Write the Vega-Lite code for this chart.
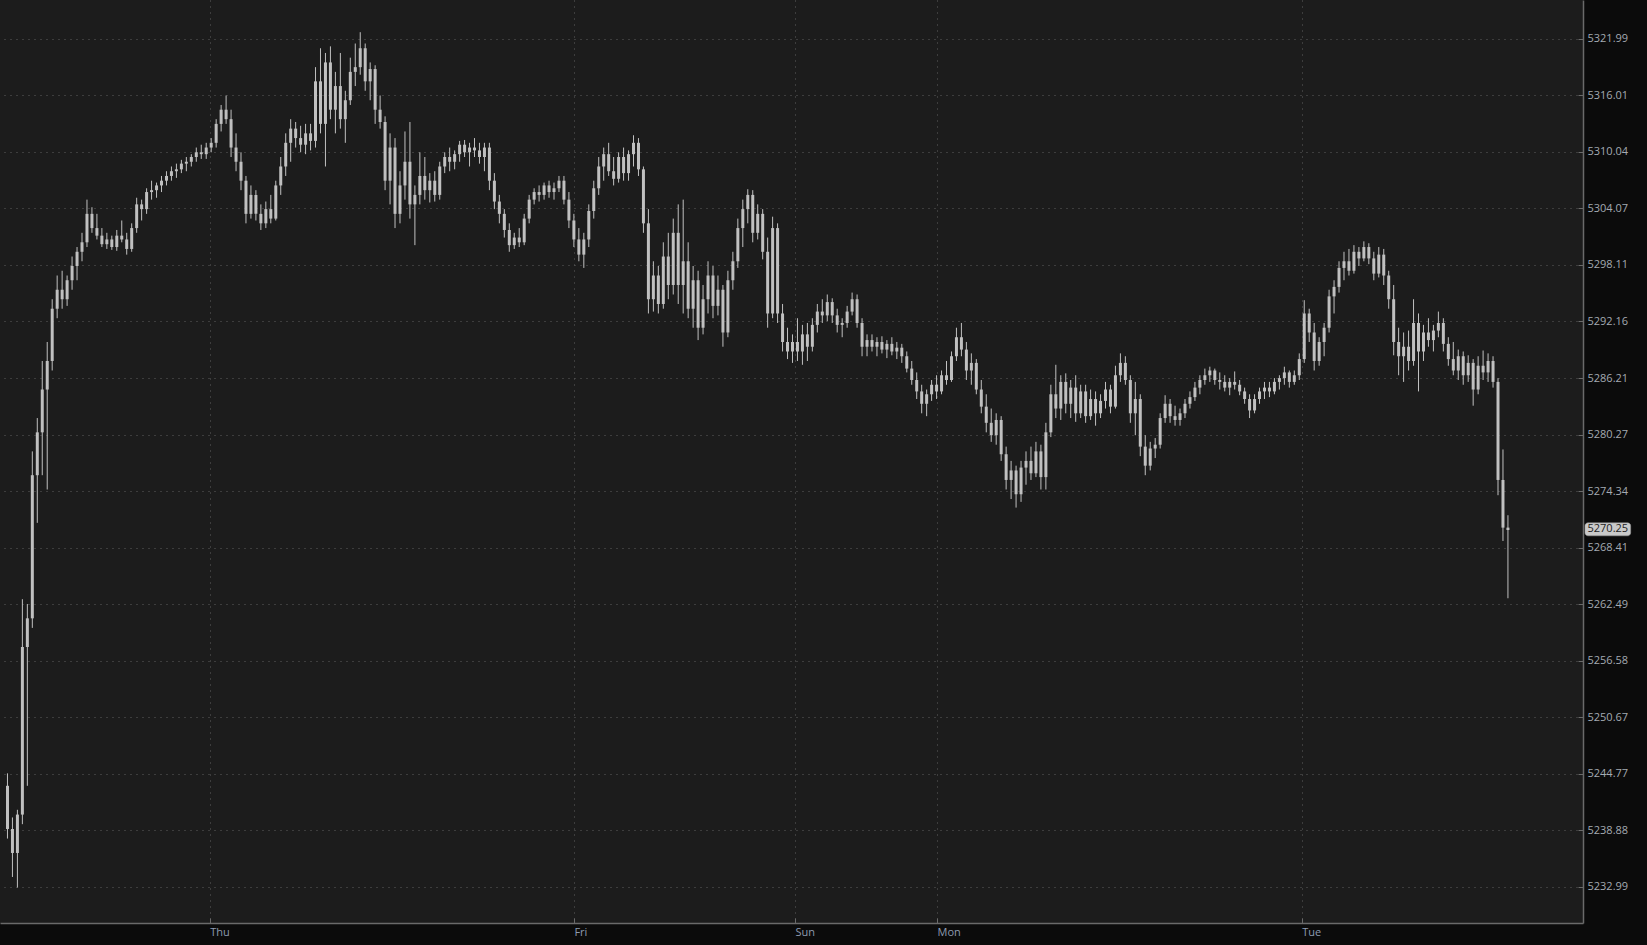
{
"$schema":"https://vega.github.io/schema/vega-lite/v6.json",
"width":1583,"height":923,
"autosize":{"type":"none"},
"padding":{"left":0,"top":0,"right":64,"bottom":22},
"background":"#0b0b0b",
"config":{"view":{"fill":"#1c1c1c","stroke":null},"font":"Open Sans","axis":{"labelFont":"Open Sans"}},
"datasets":{
"bars":[
{"i":0,"o":5243.5,"h":5244.8,"l":5238.0,"c":5239.0},
{"i":1,"o":5239.0,"h":5240.2,"l":5234.0,"c":5236.5},
{"i":2,"o":5236.5,"h":5241.0,"l":5232.9,"c":5240.5},
{"i":3,"o":5240.5,"h":5263.0,"l":5239.5,"c":5258.0},
{"i":4,"o":5258.0,"h":5262.5,"l":5243.5,"c":5261.0},
{"i":5,"o":5261.0,"h":5278.5,"l":5260.0,"c":5276.0},
{"i":6,"o":5276.0,"h":5282.0,"l":5271.0,"c":5280.5},
{"i":7,"o":5280.5,"h":5288.0,"l":5276.0,"c":5285.0},
{"i":8,"o":5285.0,"h":5290.0,"l":5274.5,"c":5288.0},
{"i":9,"o":5288.0,"h":5294.5,"l":5287.0,"c":5293.5},
{"i":10,"o":5293.5,"h":5297.0,"l":5292.5,"c":5295.5},
{"i":11,"o":5295.5,"h":5297.5,"l":5293.5,"c":5294.5},
{"i":12,"o":5294.5,"h":5297.0,"l":5293.8,"c":5296.5},
{"i":13,"o":5296.5,"h":5299.0,"l":5295.5,"c":5298.0},
{"i":14,"o":5298.0,"h":5300.0,"l":5296.5,"c":5299.5},
{"i":15,"o":5299.5,"h":5301.5,"l":5298.5,"c":5300.5},
{"i":16,"o":5300.5,"h":5305.0,"l":5300.0,"c":5303.5},
{"i":17,"o":5303.5,"h":5304.2,"l":5301.5,"c":5302.0},
{"i":18,"o":5302.0,"h":5303.5,"l":5300.8,"c":5301.2},
{"i":19,"o":5301.2,"h":5302.0,"l":5300.0,"c":5300.3},
{"i":20,"o":5300.3,"h":5301.5,"l":5299.8,"c":5300.8},
{"i":21,"o":5300.8,"h":5301.2,"l":5299.7,"c":5300.0},
{"i":22,"o":5300.0,"h":5301.8,"l":5299.6,"c":5301.2},
{"i":23,"o":5301.2,"h":5302.8,"l":5300.5,"c":5300.8},
{"i":24,"o":5300.8,"h":5301.5,"l":5299.2,"c":5299.8},
{"i":25,"o":5299.8,"h":5302.5,"l":5299.5,"c":5302.0},
{"i":26,"o":5302.0,"h":5305.2,"l":5301.5,"c":5304.5},
{"i":27,"o":5304.5,"h":5305.0,"l":5302.8,"c":5304.0},
{"i":28,"o":5304.0,"h":5306.2,"l":5303.5,"c":5305.8},
{"i":29,"o":5305.8,"h":5307.0,"l":5305.0,"c":5306.0},
{"i":30,"o":5306.0,"h":5306.8,"l":5305.2,"c":5306.5},
{"i":31,"o":5306.5,"h":5307.5,"l":5305.8,"c":5307.0},
{"i":32,"o":5307.0,"h":5308.0,"l":5306.5,"c":5307.5},
{"i":33,"o":5307.5,"h":5308.5,"l":5307.0,"c":5308.0},
{"i":34,"o":5308.0,"h":5308.8,"l":5307.3,"c":5308.2},
{"i":35,"o":5308.2,"h":5309.2,"l":5307.8,"c":5308.8},
{"i":36,"o":5308.8,"h":5309.5,"l":5308.0,"c":5309.0},
{"i":37,"o":5309.0,"h":5309.8,"l":5308.5,"c":5309.5},
{"i":38,"o":5309.5,"h":5310.5,"l":5309.0,"c":5310.0},
{"i":39,"o":5310.0,"h":5310.8,"l":5309.3,"c":5309.8},
{"i":40,"o":5309.8,"h":5311.0,"l":5309.3,"c":5310.5},
{"i":41,"o":5310.5,"h":5311.5,"l":5310.0,"c":5311.0},
{"i":42,"o":5311.0,"h":5313.5,"l":5310.5,"c":5313.0},
{"i":43,"o":5313.0,"h":5315.0,"l":5312.2,"c":5314.5},
{"i":44,"o":5314.5,"h":5316.0,"l":5313.0,"c":5313.5},
{"i":45,"o":5313.5,"h":5314.5,"l":5309.5,"c":5310.5},
{"i":46,"o":5310.5,"h":5312.0,"l":5308.0,"c":5309.0},
{"i":47,"o":5309.0,"h":5310.0,"l":5306.0,"c":5307.0},
{"i":48,"o":5307.0,"h":5307.5,"l":5302.5,"c":5303.5},
{"i":49,"o":5303.5,"h":5306.5,"l":5303.0,"c":5305.5},
{"i":50,"o":5305.5,"h":5306.0,"l":5302.8,"c":5303.5},
{"i":51,"o":5303.5,"h":5304.5,"l":5301.8,"c":5302.5},
{"i":52,"o":5302.5,"h":5304.8,"l":5302.0,"c":5304.0},
{"i":53,"o":5304.0,"h":5305.5,"l":5302.5,"c":5303.0},
{"i":54,"o":5303.0,"h":5307.0,"l":5302.8,"c":5306.5},
{"i":55,"o":5306.5,"h":5309.5,"l":5305.5,"c":5308.5},
{"i":56,"o":5308.5,"h":5312.0,"l":5307.5,"c":5311.0},
{"i":57,"o":5311.0,"h":5313.5,"l":5309.0,"c":5312.5},
{"i":58,"o":5312.5,"h":5313.2,"l":5310.5,"c":5311.5},
{"i":59,"o":5311.5,"h":5312.8,"l":5310.0,"c":5310.8},
{"i":60,"o":5310.8,"h":5313.0,"l":5309.8,"c":5312.0},
{"i":61,"o":5312.0,"h":5313.0,"l":5310.2,"c":5311.2},
{"i":62,"o":5311.2,"h":5319.0,"l":5310.5,"c":5317.5},
{"i":63,"o":5317.5,"h":5321.0,"l":5312.0,"c":5313.0},
{"i":64,"o":5313.0,"h":5320.5,"l":5308.5,"c":5319.5},
{"i":65,"o":5319.5,"h":5321.2,"l":5313.5,"c":5314.5},
{"i":66,"o":5314.5,"h":5318.5,"l":5312.0,"c":5317.0},
{"i":67,"o":5317.0,"h":5320.5,"l":5312.5,"c":5313.5},
{"i":68,"o":5313.5,"h":5316.5,"l":5311.0,"c":5315.5},
{"i":69,"o":5315.5,"h":5320.0,"l":5315.0,"c":5318.5},
{"i":70,"o":5318.5,"h":5321.5,"l":5317.0,"c":5319.0},
{"i":71,"o":5319.0,"h":5322.7,"l":5318.2,"c":5321.0},
{"i":72,"o":5321.0,"h":5321.5,"l":5316.5,"c":5317.5},
{"i":73,"o":5317.5,"h":5319.5,"l":5315.5,"c":5318.8},
{"i":74,"o":5318.8,"h":5319.2,"l":5313.0,"c":5314.5},
{"i":75,"o":5314.5,"h":5316.0,"l":5312.5,"c":5313.2},
{"i":76,"o":5313.2,"h":5313.8,"l":5306.0,"c":5307.0},
{"i":77,"o":5307.0,"h":5312.0,"l":5304.5,"c":5310.5},
{"i":78,"o":5310.5,"h":5311.5,"l":5302.0,"c":5303.5},
{"i":79,"o":5303.5,"h":5308.0,"l":5302.5,"c":5306.5},
{"i":80,"o":5306.5,"h":5312.2,"l":5305.0,"c":5309.0},
{"i":81,"o":5309.0,"h":5313.2,"l":5303.0,"c":5304.5},
{"i":82,"o":5304.5,"h":5306.5,"l":5300.2,"c":5305.5},
{"i":83,"o":5305.5,"h":5310.0,"l":5304.5,"c":5307.5},
{"i":84,"o":5307.5,"h":5309.5,"l":5305.0,"c":5306.0},
{"i":85,"o":5306.0,"h":5307.8,"l":5304.7,"c":5307.0},
{"i":86,"o":5307.0,"h":5308.0,"l":5304.8,"c":5305.5},
{"i":87,"o":5305.5,"h":5309.0,"l":5305.0,"c":5308.5},
{"i":88,"o":5308.5,"h":5310.0,"l":5307.8,"c":5309.5},
{"i":89,"o":5309.5,"h":5310.5,"l":5308.0,"c":5309.0},
{"i":90,"o":5309.0,"h":5310.2,"l":5308.2,"c":5309.8},
{"i":91,"o":5309.8,"h":5311.2,"l":5309.0,"c":5310.8},
{"i":92,"o":5310.8,"h":5311.3,"l":5309.5,"c":5310.0},
{"i":93,"o":5310.0,"h":5311.0,"l":5308.5,"c":5310.5},
{"i":94,"o":5310.5,"h":5311.5,"l":5309.5,"c":5310.2},
{"i":95,"o":5310.2,"h":5311.0,"l":5308.8,"c":5309.5},
{"i":96,"o":5309.5,"h":5311.0,"l":5308.0,"c":5310.5},
{"i":97,"o":5310.5,"h":5311.0,"l":5306.0,"c":5307.0},
{"i":98,"o":5307.0,"h":5307.8,"l":5304.0,"c":5304.8},
{"i":99,"o":5304.8,"h":5305.5,"l":5302.5,"c":5303.5},
{"i":100,"o":5303.5,"h":5304.0,"l":5301.0,"c":5301.8},
{"i":101,"o":5301.8,"h":5302.5,"l":5299.5,"c":5300.2},
{"i":102,"o":5300.2,"h":5301.5,"l":5299.8,"c":5301.0},
{"i":103,"o":5301.0,"h":5302.0,"l":5300.0,"c":5300.5},
{"i":104,"o":5300.5,"h":5303.5,"l":5300.2,"c":5303.0},
{"i":105,"o":5303.0,"h":5305.5,"l":5302.5,"c":5305.0},
{"i":106,"o":5305.0,"h":5306.2,"l":5304.5,"c":5305.8},
{"i":107,"o":5305.8,"h":5306.5,"l":5304.8,"c":5305.5},
{"i":108,"o":5305.5,"h":5306.8,"l":5305.0,"c":5306.5},
{"i":109,"o":5306.5,"h":5307.0,"l":5305.2,"c":5305.8},
{"i":110,"o":5305.8,"h":5306.8,"l":5305.0,"c":5306.2},
{"i":111,"o":5306.2,"h":5307.5,"l":5305.8,"c":5307.0},
{"i":112,"o":5307.0,"h":5307.5,"l":5304.5,"c":5305.0},
{"i":113,"o":5305.0,"h":5305.8,"l":5302.0,"c":5302.8},
{"i":114,"o":5302.8,"h":5303.5,"l":5300.0,"c":5300.8},
{"i":115,"o":5300.8,"h":5302.0,"l":5298.5,"c":5299.2},
{"i":116,"o":5299.2,"h":5301.5,"l":5297.8,"c":5300.8},
{"i":117,"o":5300.8,"h":5304.5,"l":5300.0,"c":5303.8},
{"i":118,"o":5303.8,"h":5307.0,"l":5303.0,"c":5306.2},
{"i":119,"o":5306.2,"h":5309.5,"l":5305.5,"c":5308.5},
{"i":120,"o":5308.5,"h":5310.5,"l":5307.0,"c":5309.8},
{"i":121,"o":5309.8,"h":5311.0,"l":5307.5,"c":5308.0},
{"i":122,"o":5308.0,"h":5309.5,"l":5306.5,"c":5307.2},
{"i":123,"o":5307.2,"h":5310.0,"l":5306.8,"c":5309.5},
{"i":124,"o":5309.5,"h":5310.5,"l":5307.0,"c":5307.8},
{"i":125,"o":5307.8,"h":5310.2,"l":5307.0,"c":5309.8},
{"i":126,"o":5309.8,"h":5311.8,"l":5308.5,"c":5311.0},
{"i":127,"o":5311.0,"h":5311.5,"l":5307.5,"c":5308.2},
{"i":128,"o":5308.2,"h":5308.5,"l":5301.5,"c":5302.5},
{"i":129,"o":5302.5,"h":5304.0,"l":5293.0,"c":5294.5},
{"i":130,"o":5294.5,"h":5298.5,"l":5293.2,"c":5297.0},
{"i":131,"o":5297.0,"h":5298.0,"l":5293.0,"c":5294.0},
{"i":132,"o":5294.0,"h":5300.5,"l":5293.5,"c":5299.0},
{"i":133,"o":5299.0,"h":5301.5,"l":5294.5,"c":5296.0},
{"i":134,"o":5296.0,"h":5303.0,"l":5295.0,"c":5301.5},
{"i":135,"o":5301.5,"h":5304.5,"l":5294.0,"c":5296.0},
{"i":136,"o":5296.0,"h":5305.0,"l":5293.0,"c":5298.5},
{"i":137,"o":5298.5,"h":5300.5,"l":5292.5,"c":5293.5},
{"i":138,"o":5293.5,"h":5298.0,"l":5291.5,"c":5296.5},
{"i":139,"o":5296.5,"h":5297.5,"l":5290.2,"c":5291.5},
{"i":140,"o":5291.5,"h":5296.0,"l":5290.8,"c":5294.5},
{"i":141,"o":5294.5,"h":5298.5,"l":5293.0,"c":5297.0},
{"i":142,"o":5297.0,"h":5298.0,"l":5292.5,"c":5293.8},
{"i":143,"o":5293.8,"h":5297.0,"l":5292.8,"c":5295.5},
{"i":144,"o":5295.5,"h":5296.0,"l":5289.5,"c":5291.0},
{"i":145,"o":5291.0,"h":5297.5,"l":5290.5,"c":5296.5},
{"i":146,"o":5296.5,"h":5299.5,"l":5295.5,"c":5298.5},
{"i":147,"o":5298.5,"h":5303.0,"l":5297.8,"c":5302.0},
{"i":148,"o":5302.0,"h":5305.0,"l":5300.0,"c":5304.0},
{"i":149,"o":5304.0,"h":5306.1,"l":5302.5,"c":5305.5},
{"i":150,"o":5305.5,"h":5306.0,"l":5300.5,"c":5301.5},
{"i":151,"o":5301.5,"h":5304.5,"l":5300.8,"c":5303.5},
{"i":152,"o":5303.5,"h":5304.0,"l":5298.7,"c":5299.5},
{"i":153,"o":5299.5,"h":5301.0,"l":5291.5,"c":5293.0},
{"i":154,"o":5293.0,"h":5303.2,"l":5292.5,"c":5302.0},
{"i":155,"o":5302.0,"h":5302.5,"l":5292.0,"c":5293.0},
{"i":156,"o":5293.0,"h":5294.0,"l":5289.0,"c":5290.0},
{"i":157,"o":5290.0,"h":5291.5,"l":5288.2,"c":5289.0},
{"i":158,"o":5289.0,"h":5290.8,"l":5287.8,"c":5290.0},
{"i":159,"o":5290.0,"h":5292.5,"l":5288.0,"c":5289.0},
{"i":160,"o":5289.0,"h":5291.8,"l":5287.6,"c":5290.8},
{"i":161,"o":5290.8,"h":5292.0,"l":5288.0,"c":5289.5},
{"i":162,"o":5289.5,"h":5292.5,"l":5289.0,"c":5291.8},
{"i":163,"o":5291.8,"h":5294.0,"l":5291.0,"c":5293.2},
{"i":164,"o":5293.2,"h":5294.5,"l":5292.0,"c":5292.8},
{"i":165,"o":5292.8,"h":5295.0,"l":5292.2,"c":5294.2},
{"i":166,"o":5294.2,"h":5294.6,"l":5292.0,"c":5292.8},
{"i":167,"o":5292.8,"h":5293.5,"l":5291.0,"c":5291.8},
{"i":168,"o":5291.8,"h":5292.5,"l":5290.5,"c":5292.0},
{"i":169,"o":5292.0,"h":5293.8,"l":5291.5,"c":5293.2},
{"i":170,"o":5293.2,"h":5295.2,"l":5292.8,"c":5294.5},
{"i":171,"o":5294.5,"h":5295.0,"l":5291.5,"c":5292.0},
{"i":172,"o":5292.0,"h":5292.5,"l":5288.5,"c":5289.5},
{"i":173,"o":5289.5,"h":5290.8,"l":5288.5,"c":5290.2},
{"i":174,"o":5290.2,"h":5290.8,"l":5289.0,"c":5289.5},
{"i":175,"o":5289.5,"h":5290.5,"l":5288.5,"c":5290.0},
{"i":176,"o":5290.0,"h":5290.6,"l":5288.8,"c":5289.2},
{"i":177,"o":5289.2,"h":5290.2,"l":5288.3,"c":5289.8},
{"i":178,"o":5289.8,"h":5290.5,"l":5288.6,"c":5289.0},
{"i":179,"o":5289.0,"h":5290.0,"l":5288.2,"c":5289.4},
{"i":180,"o":5289.4,"h":5289.8,"l":5287.8,"c":5288.5},
{"i":181,"o":5288.5,"h":5289.0,"l":5286.8,"c":5287.2},
{"i":182,"o":5287.2,"h":5288.0,"l":5285.5,"c":5286.0},
{"i":183,"o":5286.0,"h":5286.8,"l":5284.0,"c":5284.8},
{"i":184,"o":5284.8,"h":5285.5,"l":5282.5,"c":5283.5},
{"i":185,"o":5283.5,"h":5285.0,"l":5282.2,"c":5284.5},
{"i":186,"o":5284.5,"h":5286.0,"l":5283.8,"c":5285.5},
{"i":187,"o":5285.5,"h":5286.5,"l":5284.0,"c":5284.8},
{"i":188,"o":5284.8,"h":5287.0,"l":5284.5,"c":5286.5},
{"i":189,"o":5286.5,"h":5288.0,"l":5285.5,"c":5286.0},
{"i":190,"o":5286.0,"h":5289.0,"l":5285.8,"c":5288.5},
{"i":191,"o":5288.5,"h":5291.5,"l":5288.0,"c":5290.5},
{"i":192,"o":5290.5,"h":5292.0,"l":5288.5,"c":5289.2},
{"i":193,"o":5289.2,"h":5290.0,"l":5286.0,"c":5287.0},
{"i":194,"o":5287.0,"h":5288.8,"l":5285.5,"c":5287.8},
{"i":195,"o":5287.8,"h":5288.2,"l":5284.5,"c":5285.0},
{"i":196,"o":5285.0,"h":5286.0,"l":5282.5,"c":5283.2},
{"i":197,"o":5283.2,"h":5284.5,"l":5280.5,"c":5281.5},
{"i":198,"o":5281.5,"h":5283.0,"l":5279.5,"c":5280.2},
{"i":199,"o":5280.2,"h":5282.5,"l":5279.2,"c":5281.8},
{"i":200,"o":5281.8,"h":5282.2,"l":5277.5,"c":5278.2},
{"i":201,"o":5278.2,"h":5279.0,"l":5274.5,"c":5275.5},
{"i":202,"o":5275.5,"h":5277.5,"l":5273.5,"c":5276.5},
{"i":203,"o":5276.5,"h":5277.0,"l":5272.6,"c":5274.0},
{"i":204,"o":5274.0,"h":5277.5,"l":5273.2,"c":5276.8},
{"i":205,"o":5276.8,"h":5278.5,"l":5275.0,"c":5277.5},
{"i":206,"o":5277.5,"h":5279.0,"l":5275.5,"c":5276.2},
{"i":207,"o":5276.2,"h":5279.5,"l":5275.8,"c":5278.5},
{"i":208,"o":5278.5,"h":5279.2,"l":5274.5,"c":5275.8},
{"i":209,"o":5275.8,"h":5281.5,"l":5274.5,"c":5280.5},
{"i":210,"o":5280.5,"h":5285.5,"l":5280.0,"c":5284.5},
{"i":211,"o":5284.5,"h":5287.6,"l":5282.0,"c":5283.0},
{"i":212,"o":5283.0,"h":5286.5,"l":5281.8,"c":5285.8},
{"i":213,"o":5285.8,"h":5286.7,"l":5282.5,"c":5283.5},
{"i":214,"o":5283.5,"h":5286.0,"l":5282.0,"c":5285.2},
{"i":215,"o":5285.2,"h":5286.5,"l":5281.6,"c":5282.5},
{"i":216,"o":5282.5,"h":5285.5,"l":5282.0,"c":5284.8},
{"i":217,"o":5284.8,"h":5285.5,"l":5281.5,"c":5282.2},
{"i":218,"o":5282.2,"h":5285.0,"l":5281.8,"c":5284.0},
{"i":219,"o":5284.0,"h":5284.8,"l":5281.2,"c":5282.5},
{"i":220,"o":5282.5,"h":5284.5,"l":5282.0,"c":5283.8},
{"i":221,"o":5283.8,"h":5285.8,"l":5283.0,"c":5285.0},
{"i":222,"o":5285.0,"h":5285.5,"l":5282.5,"c":5283.2},
{"i":223,"o":5283.2,"h":5287.5,"l":5283.0,"c":5286.5},
{"i":224,"o":5286.5,"h":5288.8,"l":5285.8,"c":5287.8},
{"i":225,"o":5287.8,"h":5288.5,"l":5285.5,"c":5286.0},
{"i":226,"o":5286.0,"h":5286.5,"l":5281.5,"c":5282.5},
{"i":227,"o":5282.5,"h":5285.8,"l":5280.2,"c":5284.0},
{"i":228,"o":5284.0,"h":5284.5,"l":5278.0,"c":5279.0},
{"i":229,"o":5279.0,"h":5280.2,"l":5276.0,"c":5277.0},
{"i":230,"o":5277.0,"h":5279.5,"l":5276.5,"c":5278.8},
{"i":231,"o":5278.8,"h":5279.9,"l":5277.8,"c":5279.2},
{"i":232,"o":5279.2,"h":5282.5,"l":5278.8,"c":5282.0},
{"i":233,"o":5282.0,"h":5284.4,"l":5281.5,"c":5283.5},
{"i":234,"o":5283.5,"h":5284.0,"l":5281.5,"c":5282.2},
{"i":235,"o":5282.2,"h":5283.3,"l":5281.2,"c":5281.8},
{"i":236,"o":5281.8,"h":5283.0,"l":5281.2,"c":5282.5},
{"i":237,"o":5282.5,"h":5284.0,"l":5282.0,"c":5283.5},
{"i":238,"o":5283.5,"h":5284.8,"l":5283.0,"c":5284.2},
{"i":239,"o":5284.2,"h":5285.8,"l":5283.8,"c":5285.2},
{"i":240,"o":5285.2,"h":5286.5,"l":5284.5,"c":5286.0},
{"i":241,"o":5286.0,"h":5287.2,"l":5285.5,"c":5286.5},
{"i":242,"o":5286.5,"h":5287.4,"l":5285.8,"c":5287.0},
{"i":243,"o":5287.0,"h":5287.2,"l":5285.5,"c":5286.0},
{"i":244,"o":5286.0,"h":5286.8,"l":5285.0,"c":5285.8},
{"i":245,"o":5285.8,"h":5286.5,"l":5284.8,"c":5285.2},
{"i":246,"o":5285.2,"h":5286.2,"l":5284.4,"c":5285.8},
{"i":247,"o":5285.8,"h":5286.9,"l":5285.0,"c":5285.5},
{"i":248,"o":5285.5,"h":5286.0,"l":5284.4,"c":5284.8},
{"i":249,"o":5284.8,"h":5285.2,"l":5283.5,"c":5284.0},
{"i":250,"o":5284.0,"h":5284.5,"l":5282.0,"c":5282.8},
{"i":251,"o":5282.8,"h":5284.5,"l":5282.5,"c":5284.0},
{"i":252,"o":5284.0,"h":5285.2,"l":5283.5,"c":5284.8},
{"i":253,"o":5284.8,"h":5285.8,"l":5284.0,"c":5285.2},
{"i":254,"o":5285.2,"h":5285.8,"l":5284.2,"c":5284.8},
{"i":255,"o":5284.8,"h":5286.2,"l":5284.5,"c":5285.8},
{"i":256,"o":5285.8,"h":5286.5,"l":5285.0,"c":5286.2},
{"i":257,"o":5286.2,"h":5287.4,"l":5285.5,"c":5286.8},
{"i":258,"o":5286.8,"h":5287.0,"l":5285.2,"c":5285.8},
{"i":259,"o":5285.8,"h":5287.0,"l":5285.5,"c":5286.5},
{"i":260,"o":5286.5,"h":5288.8,"l":5286.0,"c":5288.2},
{"i":261,"o":5288.2,"h":5294.4,"l":5287.8,"c":5293.0},
{"i":262,"o":5293.0,"h":5293.5,"l":5290.0,"c":5291.0},
{"i":263,"o":5291.0,"h":5292.0,"l":5287.0,"c":5288.0},
{"i":264,"o":5288.0,"h":5290.5,"l":5287.5,"c":5290.0},
{"i":265,"o":5290.0,"h":5292.0,"l":5288.5,"c":5291.5},
{"i":266,"o":5291.5,"h":5295.5,"l":5291.0,"c":5294.8},
{"i":267,"o":5294.8,"h":5296.5,"l":5293.0,"c":5295.8},
{"i":268,"o":5295.8,"h":5298.5,"l":5295.2,"c":5297.8},
{"i":269,"o":5297.8,"h":5299.5,"l":5296.5,"c":5298.5},
{"i":270,"o":5298.5,"h":5299.8,"l":5297.0,"c":5297.5},
{"i":271,"o":5297.5,"h":5300.2,"l":5297.2,"c":5299.5},
{"i":272,"o":5299.5,"h":5300.0,"l":5298.0,"c":5298.8},
{"i":273,"o":5298.8,"h":5300.6,"l":5298.5,"c":5300.0},
{"i":274,"o":5300.0,"h":5300.4,"l":5298.2,"c":5298.8},
{"i":275,"o":5298.8,"h":5299.5,"l":5296.5,"c":5297.2},
{"i":276,"o":5297.2,"h":5300.0,"l":5296.8,"c":5299.2},
{"i":277,"o":5299.2,"h":5299.8,"l":5296.0,"c":5297.0},
{"i":278,"o":5297.0,"h":5297.5,"l":5293.5,"c":5294.5},
{"i":279,"o":5294.5,"h":5296.0,"l":5288.6,"c":5290.0},
{"i":280,"o":5290.0,"h":5291.5,"l":5286.5,"c":5288.5},
{"i":281,"o":5288.5,"h":5291.0,"l":5285.8,"c":5289.5},
{"i":282,"o":5289.5,"h":5291.2,"l":5287.0,"c":5288.0},
{"i":283,"o":5288.0,"h":5294.5,"l":5287.5,"c":5292.0},
{"i":284,"o":5292.0,"h":5293.0,"l":5284.8,"c":5289.0},
{"i":285,"o":5289.0,"h":5291.8,"l":5288.0,"c":5291.0},
{"i":286,"o":5291.0,"h":5292.5,"l":5289.5,"c":5290.2},
{"i":287,"o":5290.2,"h":5291.8,"l":5289.0,"c":5291.2},
{"i":288,"o":5291.2,"h":5293.2,"l":5290.5,"c":5292.0},
{"i":289,"o":5292.0,"h":5292.5,"l":5289.0,"c":5289.8},
{"i":290,"o":5289.8,"h":5290.5,"l":5287.5,"c":5288.2},
{"i":291,"o":5288.2,"h":5290.0,"l":5286.5,"c":5287.0},
{"i":292,"o":5287.0,"h":5289.2,"l":5286.0,"c":5288.5},
{"i":293,"o":5288.5,"h":5289.0,"l":5285.5,"c":5286.5},
{"i":294,"o":5286.5,"h":5288.6,"l":5285.8,"c":5287.8},
{"i":295,"o":5287.8,"h":5288.2,"l":5283.3,"c":5285.0},
{"i":296,"o":5285.0,"h":5288.5,"l":5284.5,"c":5287.5},
{"i":297,"o":5287.5,"h":5289.1,"l":5286.0,"c":5286.8},
{"i":298,"o":5286.8,"h":5288.8,"l":5285.8,"c":5288.0},
{"i":299,"o":5288.0,"h":5288.5,"l":5285.2,"c":5285.8},
{"i":300,"o":5285.8,"h":5286.2,"l":5273.9,"c":5275.5},
{"i":301,"o":5275.5,"h":5278.7,"l":5269.1,"c":5270.5},
{"i":302,"o":5270.5,"h":5271.8,"l":5263.1,"c":5270.25}
],
"last":[{"p":5270.25}]
},
"layer":[
{"data":{"name":"bars"},
 "mark":{"type":"rule","color":"#c0c0c0","strokeWidth":1},
 "encoding":{
  "x":{"field":"i","type":"quantitative","scale":{"domain":[-0.5,316.1],"nice":false,"zero":false},
   "axis":{"orient":"bottom","values":[40.7,114,158.5,187.1,260.5],
    "labelExpr":"datum.value < 50 ? 'Thu' : datum.value < 120 ? 'Fri' : datum.value < 170 ? 'Sun' : datum.value < 200 ? 'Mon' : 'Tue'",
    "title":null,"grid":true,"gridColor":"#5e5e5e","gridDash":[1,5],"gridWidth":1,
    "domainColor":"#6a6a6a","domainWidth":1.5,"tickColor":"#6a6a6a","tickSize":-5,
    "labelAlign":"left","labelBaseline":"top","labelPadding":8,"labelFontSize":11,"labelColor":"#8d9bb0","labelFlush":false,"labelOverlap":false}},
  "y":{"field":"l","type":"quantitative","scale":{"type":"log","domain":[5229.21,5326.11],"nice":false,"zero":false},
   "axis":{"orient":"right","values":[5321.99,5316.01,5310.04,5304.07,5298.11,5292.16,5286.21,5280.27,5274.34,5268.41,5262.49,5256.58,5250.67,5244.77,5238.88,5232.99],
    "format":".2f","title":null,"grid":true,"gridColor":"#5e5e5e","gridDash":[1,5],"gridWidth":1,
    "domainColor":"#6a6a6a","domainWidth":1.5,"tickColor":"#6a6a6a","tickSize":-5,
    "labelPadding":9,"labelFontSize":11,"labelColor":"#a4aab2","labelBaseline":"middle","labelOverlap":false,"labelFlush":false}},
  "y2":{"field":"h"}
 }},
{"data":{"name":"bars"},
 "mark":{"type":"bar","color":"#c0c0c0","size":3},
 "encoding":{
  "x":{"field":"i","type":"quantitative"},
  "y":{"field":"o","type":"quantitative"},
  "y2":{"field":"c"}
 }},
{"data":{"name":"last"},
 "mark":{"type":"rect","fill":"#c9c9c9","cornerRadius":3,"stroke":"#9a9a9a","strokeWidth":0.5},
 "encoding":{
  "x":{"datum":317.5,"type":"quantitative"},
  "x2":{"datum":326.7},
  "y":{"datum":5271.0,"type":"quantitative"},
  "y2":{"datum":5269.64}
 }},
{"data":{"name":"last"},
 "mark":{"type":"text","color":"#1e1e1e","fontSize":11,"font":"Open Sans","align":"center","baseline":"middle","dy":-1},
 "encoding":{
  "x":{"datum":322.1,"type":"quantitative"},
  "y":{"field":"p","type":"quantitative"},
  "text":{"field":"p","type":"quantitative","format":".2f"}
 }}
]
}
